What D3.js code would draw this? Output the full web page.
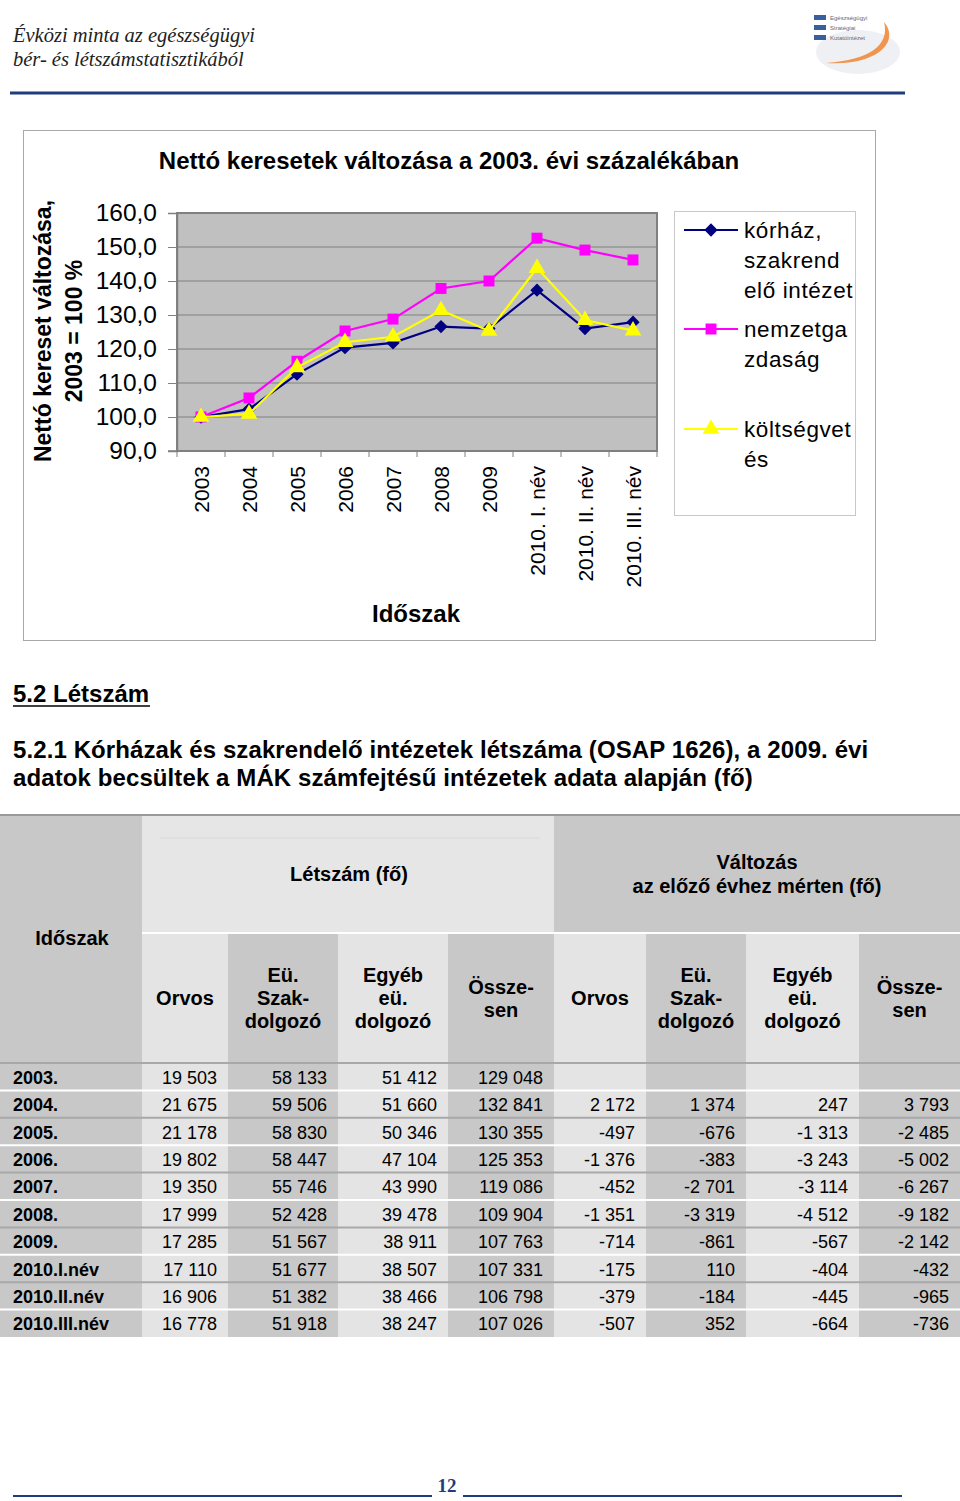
<!DOCTYPE html>
<html>
<head>
<meta charset="utf-8">
<script src="https://cdnjs.cloudflare.com/ajax/libs/d3/7.8.5/d3.min.js"></script>
<style>
  html, body { margin: 0; padding: 0; background: #fff; }
  svg { display: block; }
  text { font-family: Arial, "Liberation Sans", sans-serif; }
</style>
</head>
<body>
<script>
// ---------- chart data ----------
const categories = ["2003", "2004", "2005", "2006", "2007", "2008", "2009", "2010. I. név", "2010. II. név", "2010. III. név"];
const korhaz = [100.0, 102.3, 112.6, 120.4, 121.8, 126.6, 126.0, 137.3, 126.0, 127.9];
const nemzetgazdasag = [100.0, 105.6, 116.4, 125.3, 128.8, 137.8, 140.0, 152.6, 149.1, 146.2];
const koltsegvetes = [100.0, 100.9, 114.6, 122.0, 123.6, 131.4, 125.3, 143.8, 128.5, 125.4];
const yTicks = [90, 100, 110, 120, 130, 140, 150, 160];
const seriesNames = [["kórház,", "szakrend", "elő intézet"], ["nemzetga", "zdaság"], ["költségvet", "és"]];

// ---------- table data ----------
const periods = ["2003.", "2004.", "2005.", "2006.", "2007.", "2008.", "2009.", "2010.I.név", "2010.II.név", "2010.III.név"];
const orvos = [19503, 21675, 21178, 19802, 19350, 17999, 17285, 17110, 16906, 16778];
const szakdolgozo = [58133, 59506, 58830, 58447, 55746, 52428, 51567, 51677, 51382, 51918];
const egyeb = [51412, 51660, 50346, 47104, 43990, 39478, 38911, 38507, 38466, 38247];
const osszesen = [129048, 132841, 130355, 125353, 119086, 109904, 107763, 107331, 106798, 107026];
const dOrvos = [null, 2172, -497, -1376, -452, -1351, -714, -175, -379, -507];
const dSzak = [null, 1374, -676, -383, -2701, -3319, -861, 110, -184, 352];
const dEgyeb = [null, 247, -1313, -3243, -3114, -4512, -567, -404, -445, -664];
const dOsszesen = [null, 3793, -2485, -5002, -6267, -9182, -2142, -432, -965, -736];
const subHeaders = [["Orvos"], ["Eü.", "Szak-", "dolgozó"], ["Egyéb", "eü.", "dolgozó"], ["Össze-", "sen"],
                    ["Orvos"], ["Eü.", "Szak-", "dolgozó"], ["Egyéb", "eü.", "dolgozó"], ["Össze-", "sen"]];

const W = 960, H = 1501;
const svg = d3.select("body").append("svg").attr("width", W).attr("height", H);

const blue = "#1f3c7c";

// ---------- page header ----------
const hdr = svg.append("g");
hdr.append("text").attr("x", 13).attr("y", 42).text("Évközi minta az egészségügyi")
  .style("font-family", "'Liberation Serif', 'DejaVu Serif', serif").style("font-style", "italic").style("font-size", "20.5px").attr("fill", "#222");
hdr.append("text").attr("x", 13).attr("y", 66).text("bér- és létszámstatisztikából")
  .style("font-family", "'Liberation Serif', 'DejaVu Serif', serif").style("font-style", "italic").style("font-size", "20.5px").attr("fill", "#222");
hdr.append("line").attr("x1", 10).attr("x2", 905).attr("y1", 93).attr("y2", 93).attr("stroke", blue).attr("stroke-width", 3);

// logo approximation
const logo = svg.append("g");
logo.append("ellipse").attr("cx", 858).attr("cy", 52).attr("rx", 42).attr("ry", 22).attr("fill", "#eef0f4");
logo.append("path").attr("d", "M 884 22 C 900 40, 880 66, 826 63 C 870 60, 890 45, 884 22 Z").attr("fill", "#f08a3c").attr("opacity", 0.9);
[15, 25, 35].forEach((y, i) => {
  logo.append("rect").attr("x", 814).attr("y", y).attr("width", 12).attr("height", 5).attr("fill", "#3a5f9e");
  logo.append("text").attr("x", 830).attr("y", y + 5).text(["Egészségügyi", "Stratégiai", "Kutatóintézet"][i])
    .style("font-size", "6px").attr("fill", "#667");
});

// ---------- chart ----------
svg.append("rect").attr("x", 23.5).attr("y", 130.5).attr("width", 852).attr("height", 510)
  .attr("fill", "#fff").attr("stroke", "#a8a8a8").attr("stroke-width", 1);

svg.append("text").attr("x", 449).attr("y", 169).attr("text-anchor", "middle")
  .style("font-size", "24px").style("font-weight", "bold").text("Nettó keresetek változása a 2003. évi százalékában");

const plotL = 177, plotR = 657, plotT = 213, plotB = 451;
const x = d3.scaleBand().domain(categories).range([plotL, plotR]);
const y = d3.scaleLinear().domain([90, 160]).range([plotB, plotT]);

svg.append("rect").attr("x", plotL).attr("y", plotT).attr("width", plotR - plotL).attr("height", plotB - plotT)
  .attr("fill", "#c0c0c0").attr("stroke", "#808080").attr("stroke-width", 2);

svg.append("g").selectAll("line").data(yTicks.filter(t => t > 90 && t < 160)).join("line")
  .attr("x1", plotL).attr("x2", plotR).attr("y1", d => y(d)).attr("y2", d => y(d))
  .attr("stroke", "#808080").attr("stroke-width", 1.2);

const yAxis = svg.append("g").attr("transform", `translate(${plotL},0)`)
  .call(d3.axisLeft(y).tickValues(yTicks).tickSize(9).tickPadding(11)
    .tickFormat(d => d3.format(".1f")(d).replace(".", ",")));
yAxis.select(".domain").attr("stroke", "#808080").attr("stroke-width", 1.5);
yAxis.selectAll(".tick line").attr("stroke", "#808080");
yAxis.selectAll(".tick text").style("font-size", "24.5px").style("font-family", "Arial, 'Liberation Sans', sans-serif").attr("fill", "#000");

// x axis: ticks at category boundaries
const boundaries = categories.map(c => x(c)).concat([plotR]);
svg.append("g").selectAll("line").data(boundaries).join("line")
  .attr("x1", d => d).attr("x2", d => d).attr("y1", plotB).attr("y2", plotB + 6)
  .attr("stroke", "#808080").attr("stroke-width", 1);
svg.append("line").attr("x1", plotL - 9).attr("x2", plotR).attr("y1", plotB).attr("y2", plotB).attr("stroke", "#808080").attr("stroke-width", 1.5);
svg.append("g").selectAll("text").data(categories).join("text")
  .attr("transform", d => `translate(${x(d) + x.bandwidth() / 2 + 8},466) rotate(-90)`)
  .attr("text-anchor", "end").style("font-size", "21px").text(d => d);

svg.append("text").attr("x", 416).attr("y", 622).attr("text-anchor", "middle")
  .style("font-size", "24px").style("font-weight", "bold").text("Időszak");

// y title
const yt = svg.append("text").attr("transform", "translate(0,331) rotate(-90)").attr("text-anchor", "middle")
  .style("font-size", "23px").style("font-weight", "bold");
yt.append("tspan").attr("x", 0).attr("y", 51).text("Nettó kereset változása,");
yt.append("tspan").attr("x", 0).attr("y", 82).text("2003 = 100 %");

// series
const series = [
  { vals: korhaz, color: "#000080", marker: d3.symbolSquare, size: 88, rot: 45 },
  { vals: nemzetgazdasag, color: "#ff00ff", marker: d3.symbolSquare, size: 120, rot: 0 },
  { vals: koltsegvetes, color: "#ffff00", marker: d3.symbolTriangle, size: 120, rot: 0 }
];
const line = d3.line().x((d, i) => x(categories[i]) + x.bandwidth() / 2).y(d => y(d));
series.forEach(s => {
  svg.append("path").datum(s.vals).attr("d", line).attr("fill", "none").attr("stroke", s.color).attr("stroke-width", 2.2);
  svg.append("g").selectAll("path").data(s.vals).join("path")
    .attr("transform", (d, i) => `translate(${x(categories[i]) + x.bandwidth() / 2},${y(d)}) rotate(${s.rot})`)
    .attr("d", d3.symbol().type(s.marker).size(s.size)).attr("fill", s.color);
});

// legend
svg.append("rect").attr("x", 674.5).attr("y", 211.5).attr("width", 181).attr("height", 304)
  .attr("fill", "#fff").attr("stroke", "#c8c8c8");
svg.append("clipPath").attr("id", "legclip").append("rect").attr("x", 675).attr("y", 212).attr("width", 180).attr("height", 303);
const legY = [230, 329, 429];
series.forEach((s, i) => {
  const g = svg.append("g");
  g.append("line").attr("x1", 684).attr("x2", 738).attr("y1", legY[i]).attr("y2", legY[i]).attr("stroke", s.color).attr("stroke-width", 2);
  g.append("path").attr("transform", `translate(711,${legY[i]}) rotate(${s.rot})`).attr("d", d3.symbol().type(s.marker).size(s.size)).attr("fill", s.color);
  const t = g.append("text").attr("clip-path", "url(#legclip)").style("font-size", "22.5px").style("letter-spacing", "0.6px");
  seriesNames[i].forEach((ln, j) => t.append("tspan").attr("x", 744).attr("y", legY[i] + 8 + j * 30).text(ln));
});

// ---------- section headings ----------
svg.append("text").attr("x", 13).attr("y", 702).style("font-size", "24px").style("font-weight", "bold").text("5.2 Létszám");
svg.append("line").attr("x1", 13).attr("x2", 150).attr("y1", 706).attr("y2", 706).attr("stroke", "#000").attr("stroke-width", 1.6);
svg.append("text").attr("x", 13).attr("y", 758).style("font-size", "24px").style("font-weight", "bold").style("letter-spacing", "0.1px")
  .text("5.2.1 Kórházak és szakrendelő intézetek létszáma (OSAP 1626), a 2009. évi");
svg.append("text").attr("x", 13).attr("y", 786).style("font-size", "24px").style("font-weight", "bold").style("letter-spacing", "0.1px")
  .text("adatok becsültek a MÁK számfejtésű intézetek adata alapján (fő)");

// ---------- table ----------
const light = "#e4e4e4", dark = "#c8c8c8";
const colEdges = [0, 142, 228, 338, 448, 554, 646, 746, 859, 960];
const tTop = 815, tMid = 933, tHead = 1063, tBot = 1337;
const tbl = svg.append("g");

// header backgrounds
tbl.append("rect").attr("x", 0).attr("y", tTop).attr("width", 142).attr("height", tHead - tTop).attr("fill", dark);
tbl.append("rect").attr("x", 142).attr("y", tTop).attr("width", 412).attr("height", tMid - tTop).attr("fill", "#e6e6e6");
tbl.append("rect").attr("x", 554).attr("y", tTop).attr("width", 406).attr("height", tMid - tTop).attr("fill", dark);
for (let c = 1; c < colEdges.length - 1; c++) {
  tbl.append("rect").attr("x", colEdges[c]).attr("y", tMid).attr("width", colEdges[c + 1] - colEdges[c]).attr("height", tBot - tMid)
    .attr("fill", c % 2 === 1 ? light : dark);
}
tbl.append("rect").attr("x", 0).attr("y", tHead).attr("width", 142).attr("height", tBot - tHead).attr("fill", dark);
tbl.append("line").attr("x1", 160).attr("x2", 540).attr("y1", 838).attr("y2", 838).attr("stroke", "#d8d8d8");
tbl.append("line").attr("x1", 0).attr("x2", 960).attr("y1", tTop).attr("y2", tTop).attr("stroke", "#9a9a9a").attr("stroke-width", 2);
tbl.append("line").attr("x1", 142).attr("x2", 960).attr("y1", tMid).attr("y2", tMid).attr("stroke", "#fff").attr("stroke-width", 2);

const hb = (xx, yy, txt) => tbl.append("text").attr("x", xx).attr("y", yy).attr("text-anchor", "middle")
  .style("font-size", "20px").style("font-weight", "bold").text(txt);
hb(349, 881, "Létszám (fő)");
hb(757, 869, "Változás");
hb(757, 893, "az előző évhez mérten (fő)");
hb(72, 945, "Időszak");
subHeaders.forEach((lines, i) => {
  const cx = (colEdges[i + 1] + colEdges[i + 2]) / 2;
  const y0 = 1005 - (lines.length - 1) * 11.5;
  lines.forEach((ln, j) => hb(cx, y0 + j * 23, ln));
});

// rows
const rowY = d3.scaleBand().domain(periods).range([tHead, tBot]);
tbl.append("g").selectAll("line").data(periods).join("line")
  .attr("x1", 0).attr("x2", 960).attr("y1", d => rowY(d)).attr("y2", d => rowY(d))
  .attr("stroke", (d, i) => (i % 2 === 0 ? "#a8a8a8" : "#ffffff")).attr("stroke-width", 2);

const fmt = v => (v === null ? "" : (v < 0 ? "-" : "") + d3.format(",")(Math.abs(v)).replace(/,/g, " "));
const cols = [orvos, szakdolgozo, egyeb, osszesen, dOrvos, dSzak, dEgyeb, dOsszesen];
tbl.append("g").selectAll("text").data(periods).join("text")
  .attr("x", 13).attr("y", d => rowY(d) + rowY.bandwidth() / 2 + 7)
  .style("font-size", "18px").style("font-weight", "bold").text(d => d);
cols.forEach((arr, c) => {
  tbl.append("g").selectAll("text").data(arr).join("text")
    .attr("x", colEdges[c + 2] - 11).attr("y", (d, i) => rowY(periods[i]) + rowY.bandwidth() / 2 + 7)
    .attr("text-anchor", "end").style("font-size", "18px").text(d => fmt(d));
});

// ---------- footer ----------
svg.append("text").attr("x", 447).attr("y", 1492).attr("text-anchor", "middle")
  .style("font-family", "'Liberation Serif', serif").style("font-weight", "bold").style("font-size", "19px").attr("fill", blue).text("12");
svg.append("line").attr("x1", 13).attr("x2", 432).attr("y1", 1496).attr("y2", 1496).attr("stroke", blue).attr("stroke-width", 2);
svg.append("line").attr("x1", 463).attr("x2", 902).attr("y1", 1496).attr("y2", 1496).attr("stroke", blue).attr("stroke-width", 2);
</script>
</body>
</html>
